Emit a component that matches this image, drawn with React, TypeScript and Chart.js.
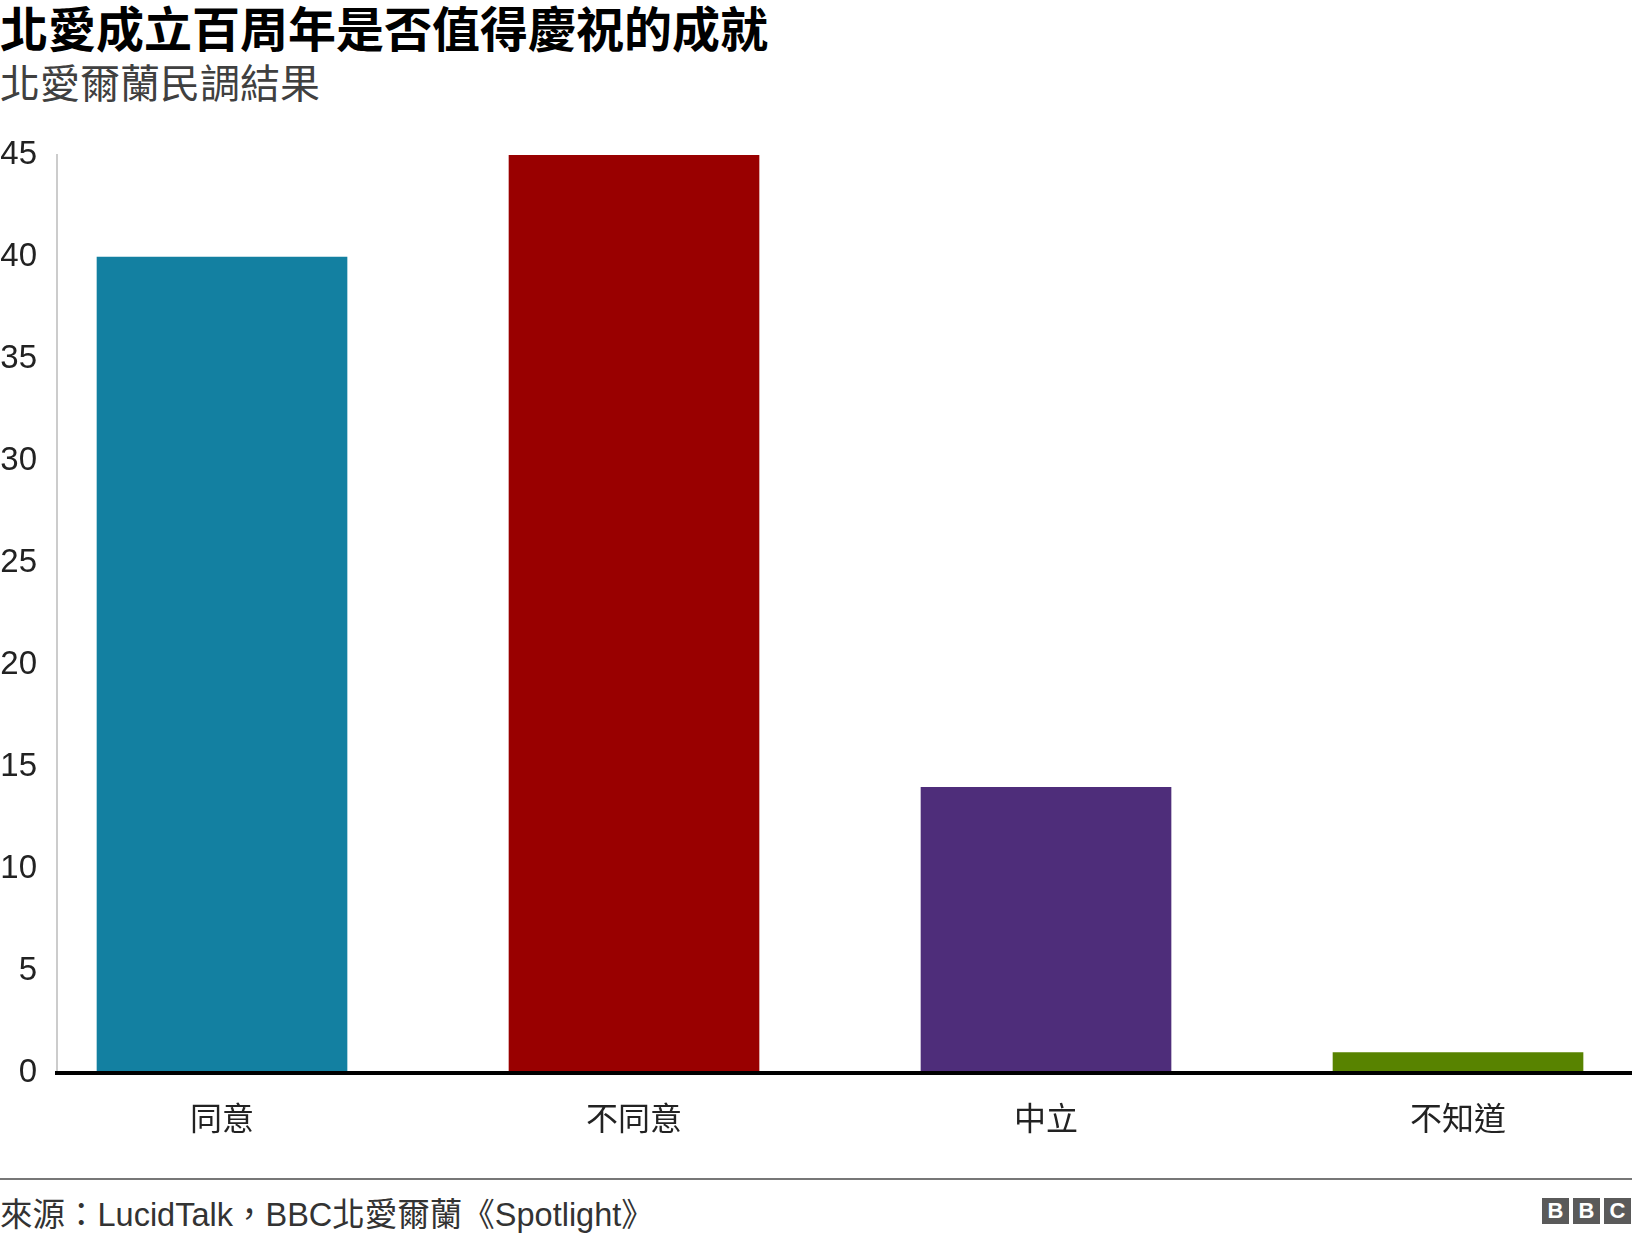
import React, { useEffect, useRef } from 'react';
import { Chart, registerables } from 'chart.js';

Chart.register(...registerables);

const TITLE = '北愛成立百周年是否值得慶祝的成就';
const SUBTITLE = '北愛爾蘭民調結果';
const SOURCE = '來源：LucidTalk，BBC北愛爾蘭《Spotlight》';
const LOGO_LETTERS = ['B', 'B', 'C'];

const categories = ['同意', '不同意', '中立', '不知道'];
const values = [40, 45, 14, 1];
const barColors = ['#1380A1', '#990000', '#4E2D7A', '#588300'];
const yMin = 0;
const yMax = 45;
const yStep = 5;

const CJK = '"Noto Sans CJK TC", "Noto Sans CJK SC", sans-serif';
const LATIN = '"Liberation Sans", Arial, "Noto Sans CJK TC", sans-serif';

function BarChart() {
  const ref = useRef<HTMLCanvasElement | null>(null);
  useEffect(() => {
    if (!ref.current) return;
    const chart = new Chart(ref.current, {
      type: 'bar',
      data: {
        datasets: [
          {
            data: values.map((v, i) => ({ x: i, y: v })),
            backgroundColor: barColors,
            borderWidth: 0,
            barThickness: 250,
          },
        ],
      },
      options: {
        animation: false,
        responsive: false,
        devicePixelRatio: 1,
        layout: { padding: { top: 45, left: 0, right: 0, bottom: 0 } },
        plugins: {
          legend: { display: false },
          tooltip: { enabled: false },
          title: { display: false },
        },
        scales: {
          x: {
            type: 'linear',
            offset: false,
            min: -0.4005,
            max: 3.4223,
            afterBuildTicks: (s: any) => {
              s.ticks = categories.map((_, i) => ({ value: i }));
            },
            afterFit: (s: any) => {
              s.height = 97;
            },
            grid: { display: false, drawTicks: false, offset: false },
            border: { display: true, color: '#000000', width: 4, z: 1 },
            ticks: {
              autoSkip: false,
              maxRotation: 0,
              padding: 26,
              color: '#222222',
              font: { family: CJK, size: 32 },
              callback: (v: any) => categories[v as number] ?? '',
            },
          },
          y: {
            min: yMin,
            max: yMax,
            afterFit: (s: any) => {
              s.width = 57;
            },
            grid: { display: false, drawTicks: false },
            border: { display: true, color: '#cccccc', width: 2 },
            ticks: {
              stepSize: yStep,
              crossAlign: 'near',
              padding: 20,
              color: '#222222',
              font: { family: LATIN, size: 33 },
            },
          },
        },
      },
    } as any);
    return () => chart.destroy();
  }, []);
  return <canvas ref={ref} width={1632} height={1060} style={{ display: 'block', width: 1632, height: 1060 }} />;
}

export default function App() {
  return (
    <div style={{ position: 'absolute', left: 0, top: 0, width: 1632, height: 1236, background: '#fff', overflow: 'hidden' }}>
      <div style={{ position: 'absolute', left: 0, top: 0, fontFamily: CJK, fontWeight: 700, fontSize: 48, lineHeight: '52px', color: '#000', whiteSpace: 'nowrap' }}>
        {TITLE}
      </div>
      <div style={{ position: 'absolute', left: 0, top: 59, fontFamily: CJK, fontWeight: 400, fontSize: 40, lineHeight: '44px', color: '#404040', whiteSpace: 'nowrap' }}>
        {SUBTITLE}
      </div>
      <div style={{ position: 'absolute', left: 0, top: 110 }}>
        <BarChart />
      </div>
      <div style={{ position: 'absolute', left: 0, top: 1178, width: 1632, height: 2, background: '#777777' }} />
      <div style={{ position: 'absolute', left: 0, top: 1195, fontFamily: LATIN, fontSize: 32.5, lineHeight: '40px', color: '#333333', whiteSpace: 'nowrap' }}>
        {SOURCE}
      </div>
      <div style={{ position: 'absolute', left: 1542, top: 1198, display: 'flex', gap: 4 }}>
        {LOGO_LETTERS.map((l, i) => (
          <div key={i} style={{ width: 27, height: 26, background: '#5a5a5a', color: '#fff', fontFamily: LATIN, fontWeight: 700, fontSize: 22, lineHeight: '26px', textAlign: 'center' }}>
            {l}
          </div>
        ))}
      </div>
    </div>
  );
}
